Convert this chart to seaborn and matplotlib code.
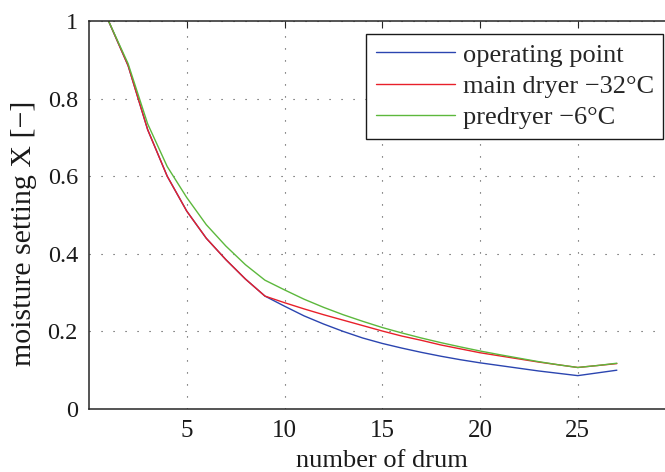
import numpy as np
import pandas as pd
import matplotlib
matplotlib.use("Agg")
import matplotlib.pyplot as plt
import seaborn as sns
from matplotlib.ticker import FuncFormatter

drum = list(range(1, 28))
operating_point = [1.0, 0.885, 0.72, 0.60, 0.51, 0.44, 0.385, 0.335, 0.291,
                   0.265, 0.240, 0.219, 0.200, 0.183, 0.169, 0.157, 0.146,
                   0.136, 0.127, 0.119, 0.112, 0.105, 0.098, 0.092, 0.086,
                   0.093, 0.100]
main_dryer = [1.0, 0.885, 0.72, 0.60, 0.51, 0.44, 0.385, 0.335, 0.291,
              0.274, 0.258, 0.243, 0.229, 0.215, 0.201, 0.188, 0.177,
              0.165, 0.155, 0.145, 0.137, 0.129, 0.121, 0.114, 0.107,
              0.112, 0.117]
predryer = [1.0, 0.89, 0.735, 0.625, 0.545, 0.475, 0.42, 0.372, 0.332,
            0.307, 0.283, 0.262, 0.243, 0.226, 0.210, 0.196, 0.183,
            0.171, 0.160, 0.1495, 0.140, 0.131, 0.122, 0.114, 0.107,
            0.112, 0.118]
series_names = ["operating point", "main dryer \u221232\u00b0C", "predryer \u22126\u00b0C"]
colors = ["#2b45b0", "#e8202a", "#5cb83c"]
x_ticks = [5, 10, 15, 20, 25]
y_ticks = [0, 0.2, 0.4, 0.6, 0.8, 1]

df = pd.concat([
    pd.DataFrame({"drum": drum, "X": vals, "series": name})
    for name, vals in zip(series_names, [operating_point, main_dryer, predryer])
], ignore_index=True)

sns.set_style("white")
plt.rcParams["font.family"] = ["Liberation Serif", "DejaVu Serif"]

fig = plt.figure(figsize=(6.65, 4.72), dpi=100)
ax = fig.add_axes([89 / 665, 63 / 472, 586.5 / 665, 388 / 472])

sns.lineplot(data=df, x="drum", y="X", hue="series", hue_order=series_names,
             palette=colors, linewidth=1.0, ax=ax, legend=True)

ax.set_xlim(0, 30)
ax.set_ylim(0, 1)
ax.set_xticks(x_ticks)
ax.set_yticks(y_ticks)
ax.yaxis.set_major_formatter(FuncFormatter(lambda v, p: ("%g" % v)))
ax.tick_params(direction="in", length=5, width=0.8, top=True, right=True,
               labelsize=18, pad=8, colors="#262626", labelcolor="#1a1a1a")
ax.tick_params(axis="y", labelsize=17.5)
for s in ax.spines.values():
    s.set_color("#262626")
    s.set_linewidth(1.1)
ax.grid(True, color="#444444", linewidth=0.8, linestyle=(0, (1, 9.8)))
ax.set_axisbelow(True)

ax.set_xlabel("number of drum", fontsize=19, color="#1a1a1a", labelpad=6)
ax.set_ylabel("moisture setting X [\u2212]", fontsize=21.5, color="#1a1a1a")
ax.yaxis.set_label_coords(-0.089, 0.4536)

leg = ax.legend(loc="upper right", bbox_to_anchor=(663 / 665, 1 - 34 / 472),
                bbox_transform=fig.transFigure, borderaxespad=0,
                frameon=True, fancybox=False, shadow=False, fontsize=19,
                handlelength=3.0, handletextpad=0.3, labelspacing=0.3,
                borderpad=0.35)
leg.get_frame().set_edgecolor("#1a1a1a")
leg.get_frame().set_linewidth(1.0)
leg.get_frame().set_alpha(1)

fig.savefig("out.png", dpi=100)
